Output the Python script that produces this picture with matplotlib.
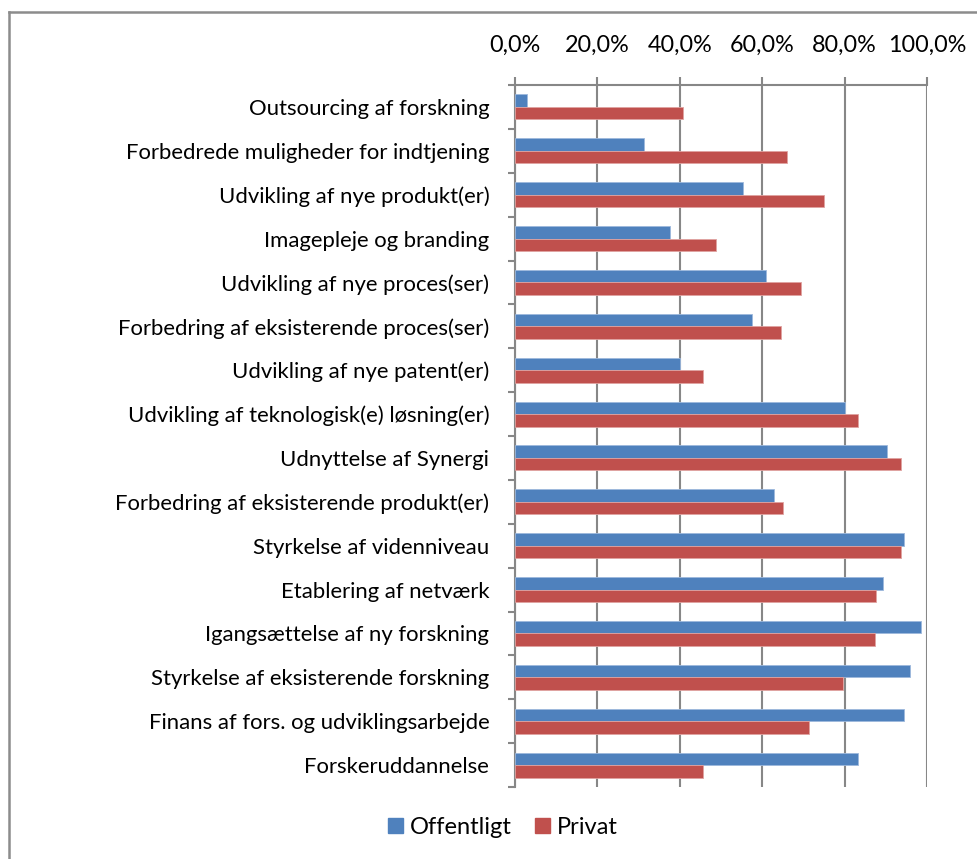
import matplotlib
matplotlib.use("Agg")
import matplotlib.pyplot as plt
from matplotlib.lines import Line2D
from matplotlib.ticker import FuncFormatter
import numpy as np

categories = [
    "Outsourcing af forskning",
    "Forbedrede muligheder for indtjening",
    "Udvikling af nye produkt(er)",
    "Imagepleje og branding",
    "Udvikling af nye proces(ser)",
    "Forbedring af eksisterende proces(ser)",
    "Udvikling af nye patent(er)",
    "Udvikling af teknologisk(e) løsning(er)",
    "Udnyttelse af Synergi",
    "Forbedring af eksisterende produkt(er)",
    "Styrkelse af videnniveau",
    "Etablering af netværk",
    "Igangsættelse af ny forskning",
    "Styrkelse af eksisterende forskning",
    "Finans af fors. og udviklingsarbejde",
    "Forskeruddannelse",
]
offentligt = [2.9, 31.2, 55.4, 37.7, 60.9, 57.6, 40.0, 80.0, 90.4, 62.8,
              94.4, 89.2, 98.5, 95.9, 94.4, 83.3]
privat = [40.8, 65.9, 74.9, 48.9, 69.3, 64.5, 45.7, 83.3, 93.6, 65.1,
          93.8, 87.5, 87.3, 79.6, 71.3, 45.7]
xticks = [0, 20, 40, 60, 80, 100]

plt.rcParams['font.family'] = ['Lato', 'DejaVu Sans']

fig = plt.figure(figsize=(9.77, 8.59), dpi=100)
ax = fig.add_axes([515/977, 1-787/859, (927-515)/977, (787-85)/859])

n = len(categories)
y = np.arange(n)
h = 0.285
blue = "#4F81BD"
red = "#C0504D"
ax.barh(y - h/2, offentligt, height=h, color=blue, edgecolor="#9DB8DC", linewidth=0.6, zorder=3, label="Offentligt")
ax.barh(y + h/2, privat, height=h, color=red, edgecolor="#E0A3A1", linewidth=0.6, zorder=3, label="Privat")

ax.set_xlim(0, 100)
ax.set_ylim(n - 0.5, -0.5)
ax.xaxis.tick_top()
ax.set_xticks(xticks)
ax.xaxis.set_major_formatter(FuncFormatter(lambda v, p: f"{v:.1f}%".replace(".", ",")))
ax.tick_params(axis='x', which='major', direction='out', length=5.8, width=1.5, color="#878787",
               labelsize=16.8, pad=15.5)
ax.grid(axis='x', color="#878787", linewidth=1.5, zorder=0)

ax.set_yticks(y)
ax.set_yticklabels(categories, fontsize=15.9)
ax.set_yticks(np.arange(n + 1) - 0.5, minor=True)
ax.tick_params(axis='y', which='major', length=0, pad=18.5)
ax.tick_params(axis='y', which='minor', direction='out', length=5, width=1.5, color="#878787")

for s in ['right', 'bottom']:
    ax.spines[s].set_visible(False)
for s in ['left', 'top']:
    ax.spines[s].set_color("#878787")
    ax.spines[s].set_linewidth(1.5)

handles = [
    plt.Rectangle((0, 0), 1, 1, color=blue),
    plt.Rectangle((0, 0), 1, 1, color=red),
]
fig.legend(handles, ["Offentligt", "Privat"], loc='center', bbox_to_anchor=(503/977, 1-827/859),
           ncol=2, frameon=False, fontsize=17, handlelength=0.62, handleheight=0.62,
           handletextpad=0.3, columnspacing=1.0)

# chart border (left and top visible)
fig.add_artist(Line2D([9/977, 9/977], [0, 1-12/859], transform=fig.transFigure, color="#8C8C8C", linewidth=1.8))
fig.add_artist(Line2D([9/977, 1], [1-12/859, 1-12/859], transform=fig.transFigure, color="#8C8C8C", linewidth=1.8))

fig.savefig("out.png", dpi=100)
